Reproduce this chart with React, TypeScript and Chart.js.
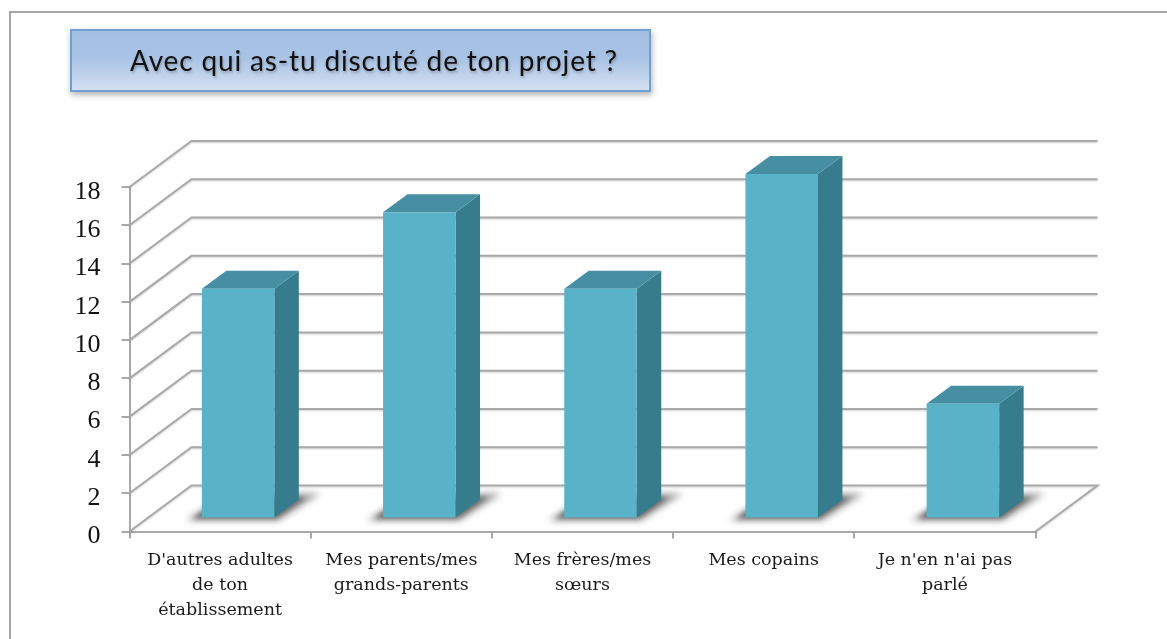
import React, { useEffect, useRef } from "react";
import { Chart, registerables } from "chart.js";

Chart.register(...registerables);

const categories = [
  ["D'autres adultes", "de ton", "établissement"],
  ["Mes parents/mes", "grands-parents"],
  ["Mes frères/mes", "sœurs"],
  ["Mes copains"],
  ["Je n'en n'ai pas", "parlé"],
];
const seriesValues = [12, 16, 12, 18, 6];
const yTicks = [0, 2, 4, 6, 8, 10, 12, 14, 16, 18];
const titleText = "Avec qui as-tu discuté de ton projet ?";

const WALL_DX = 62;
const WALL_DY = -46;
const BAR_DX = 18;
const BAR_DY = -13;
const SIDE_DX = 24.5;
const SIDE_DY = -18;
const LINE = "#a9a9a9";
const FRONT = "#58b2c8";
const SIDE = "#377c8d";
const TOP = "#468fa3";

const poly = (ctx: CanvasRenderingContext2D, pts: number[][], fill: string) => {
  ctx.beginPath();
  pts.forEach(([x, y], i) => (i ? ctx.lineTo(x, y) : ctx.moveTo(x, y)));
  ctx.closePath();
  ctx.fillStyle = fill;
  ctx.fill();
};

const threeD = {
  id: "threeD",
  beforeDatasetsDraw(chart: any) {
    const { ctx, chartArea: a, scales } = chart;
    ctx.save();
    ctx.strokeStyle = LINE;
    ctx.lineWidth = 2;
    ctx.shadowColor = "rgba(0,0,0,0.18)";
    ctx.shadowBlur = 2;
    ctx.shadowOffsetY = 1;
    yTicks.forEach((t) => {
      const y = scales.y.getPixelForValue(t);
      ctx.beginPath();
      ctx.moveTo(a.left, y);
      ctx.lineTo(a.left + WALL_DX, y + WALL_DY);
      ctx.lineTo(a.right + WALL_DX, y + WALL_DY);
      if (t === 0) ctx.lineTo(a.right, y);
      ctx.stroke();
    });
    ctx.restore();
  },
  beforeDatasetDraw(chart: any) {
    const { ctx } = chart;
    const bars = chart.getDatasetMeta(0).data;
    ctx.save();
    bars.forEach((b: any) => {
      const l = b.x - b.width / 2 + BAR_DX;
      const r = b.x + b.width / 2 + BAR_DX;
      const t = b.y + BAR_DY;
      const g = b.base + BAR_DY;
      ctx.save();
      ctx.filter = "blur(3.5px)";
      poly(
        ctx,
        [
          [l - 16, g + 3],
          [r + 4, g + 3],
          [r + 46, g - 24],
          [l + 26, g - 24],
        ],
        "rgba(120,120,120,0.7)"
      );
      ctx.filter = "blur(2.5px)";
      poly(
        ctx,
        [
          [l - 9, g + 1],
          [r + 2, g + 1],
          [r + 32, g - 20],
          [l + 20, g - 20],
        ],
        "rgba(85,85,85,0.75)"
      );
      ctx.restore();
      poly(ctx, [[r, t], [r + SIDE_DX, t + SIDE_DY], [r + SIDE_DX, g + SIDE_DY], [r, g]], SIDE);
      poly(ctx, [[l, t], [l + SIDE_DX, t + SIDE_DY], [r + SIDE_DX, t + SIDE_DY], [r, t]], TOP);
    });
    ctx.restore();
    ctx.save();
    ctx.translate(BAR_DX, BAR_DY);
  },
  afterDatasetDraw(chart: any) {
    chart.ctx.restore();
  },
};

export default function App() {
  const ref = useRef<HTMLCanvasElement>(null);
  useEffect(() => {
    const chart = new Chart(ref.current!, {
      type: "bar",
      data: {
        labels: categories as any,
        datasets: [
          {
            data: seriesValues,
            backgroundColor: FRONT,
            barPercentage: 0.4,
            categoryPercentage: 1,
            clip: false as any,
          },
        ],
      },
      options: {
        responsive: false,
        animation: false,
        layout: { padding: { left: 0, right: 131.5, top: 187, bottom: 0 } },
        plugins: { legend: { display: false }, tooltip: { enabled: false } },
        scales: {
          x: {
            offset: true,
            afterFit: (s: any) => {
              s.height = 107.5;
            },
            grid: {
              offset: true,
              drawOnChartArea: false,
              color: LINE,
              lineWidth: 2,
              tickLength: 7,
            },
            border: { color: LINE, width: 2 },
            ticks: {
              autoSkip: false,
              maxRotation: 0,
              minRotation: 0,
              padding: 9,
              color: "#1a1a1a",
              font: { family: "DejaVu Serif", size: 17.5, lineHeight: 1.43 },
            },
          },
          y: {
            min: 0,
            max: 18,
            afterFit: (s: any) => {
              s.width = 129.5;
            },
            grid: {
              drawOnChartArea: false,
              color: LINE,
              lineWidth: 2,
              tickLength: 8,
            },
            border: { color: LINE, width: 2 },
            ticks: {
              stepSize: 2,
              padding: 21,
              labelOffset: 5,
              color: "#111",
              font: { family: "Liberation Serif", size: 26 },
            },
          },
        },
      },
      plugins: [threeD],
    } as any);
    return () => chart.destroy();
  }, []);
  return (
    <div style={{ position: "fixed", left: 0, top: 0, width: 1167, height: 639, background: "#fff", overflow: "hidden" }}>
      <canvas ref={ref} width={1167} height={639} style={{ position: "absolute", left: 0, top: 0 }} />
      <div
        style={{
          position: "absolute",
          left: 9,
          top: 11,
          width: 1300,
          height: 800,
          border: "2.5px solid #a6a6a6",
          boxSizing: "border-box",
          pointerEvents: "none",
        }}
      />
      <div
        style={{
          position: "absolute",
          left: 70,
          top: 29,
          width: 581,
          height: 63,
          boxSizing: "border-box",
          border: "2px solid #6f9fd3",
          background: "linear-gradient(180deg,#a3bfe3 0%,#a9c3e5 45%,#d3e0f1 100%)",
          boxShadow: "1px 3px 6px rgba(0,0,0,0.3)",
          fontFamily: "Lato",
          fontSize: 28,
          letterSpacing: 0.85,
          color: "#111",
          paddingLeft: 58,
          lineHeight: "58px",
          textShadow: "1px 2px 3px rgba(0,0,0,0.25)",
          whiteSpace: "nowrap",
        }}
      >
        {titleText}
      </div>
    </div>
  );
}
